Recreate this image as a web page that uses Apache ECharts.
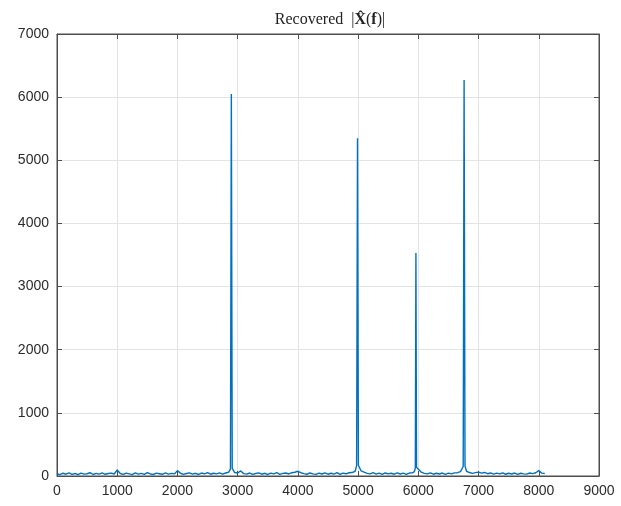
<!DOCTYPE html>
<html>
<head>
<meta charset="utf-8">
<script src="https://cdn.jsdelivr.net/npm/echarts@6/dist/echarts.min.js"></script>
<style>html,body{margin:0;padding:0;background:#fff}#c{width:621px;height:506px}</style>
</head>
<body>
<div id="c"></div>
<script>
// Frequency (Hz) and magnitude |X(f)|
const freqHz = [
  0,50,100,150,200,250,300,350,400,450,500,550,600,650,700,750,800,850,900,950,
  1000,1050,1100,1150,1200,1250,1300,1350,1400,1450,1500,1550,1600,1650,1700,1750,1800,1850,1900,1950,
  2000,2050,2100,2150,2200,2250,2300,2350,2400,2450,2500,2550,2600,2650,2700,2750,2800,2850,2880,2895,2910,2950,
  3000,3050,3100,3150,3200,3250,3300,3350,3400,3450,3500,3550,3600,3650,3700,3750,3800,3850,3900,3950,
  4000,4050,4100,4150,4200,4250,4300,4350,4400,4450,4500,4550,4600,4650,4700,4750,4800,4850,4900,4950,4975,4990,5005,
  5050,5100,5150,5200,5250,5300,5350,5400,5450,5500,5550,5600,5650,5700,5750,5800,5850,5900,5935,5950,5960,5970,
  6050,6100,6150,6200,6250,6300,6350,6400,6450,6500,6550,6600,6650,6700,6745,6760,6775,
  6800,6850,6900,6950,7000,7050,7100,7150,7200,7250,7300,7350,7400,7450,7500,7550,7600,7650,7700,7750,
  7800,7850,7900,7950,8000,8050,8100
];
const magnitude = [
  35,22,44,28,50,26,40,20,46,30,36,52,24,42,30,48,27,40,45,32,
  95,40,25,46,34,22,50,30,42,26,55,32,24,45,36,27,48,30,42,33,
  85,44,26,40,50,30,43,24,47,34,52,28,44,33,50,30,47,60,110,6050,120,55,
  48,80,38,30,47,26,40,50,28,43,24,46,33,52,27,42,48,32,52,60,
  75,52,38,28,48,34,26,45,32,50,28,43,30,52,26,45,35,52,55,75,160,5350,170,
  80,60,42,34,52,30,45,26,48,33,43,28,50,32,45,26,47,50,70,130,3530,140,
  60,42,34,50,28,43,32,47,26,45,34,50,52,70,150,6270,160,
  75,55,42,54,62,45,56,36,48,30,45,34,48,28,43,32,47,26,44,34,
  30,47,38,52,85,45,40
];
const xTicks = [0,1000,2000,3000,4000,5000,6000,7000,8000,9000];
const yTicks = [0,1000,2000,3000,4000,5000,6000,7000];

const pts = freqHz.map((f, i) => [f, magnitude[i]]);
const labelStyle = {fontFamily: 'Liberation Sans, Arial, sans-serif', fontSize: 14, color: '#2b2b2b', formatter: v => String(v)};
const serif = 'Liberation Serif, Times New Roman, serif';
const tick = {show: true, inside: true, length: 5, lineStyle: {color: '#4d4d4d'}};
const chart = echarts.init(document.getElementById('c'), null, {renderer: 'canvas'});
chart.setOption({
  animation: false,
  title: {
    text: 'Recovered  |{b|X̂}({b|f})|',
    left: 325, top: 7, textAlign: 'center',
    textStyle: {
      fontFamily: serif, fontSize: 16, fontWeight: 'normal', color: '#222',
      rich: {b: {fontFamily: serif, fontSize: 16, fontWeight: 'bold', color: '#222'}}
    }
  },
  grid: {left: 57, right: 22, top: 34, bottom: 30, show: true, borderColor: '#4d4d4d', borderWidth: 1},
  xAxis: [{
    type: 'value', min: 0, max: 9000, interval: 1000, position: 'bottom',
    axisLine: {show: true, onZero: false, lineStyle: {color: '#4d4d4d'}},
    axisTick: tick,
    axisLabel: Object.assign({margin: 8, inside: false}, labelStyle),
    splitLine: {show: true, lineStyle: {color: '#e3e3e3', width: 1}}
  }, {
    type: 'value', position: 'top', min: 0, max: 9000, interval: 1000,
    axisLine: {show: true, onZero: false, lineStyle: {color: '#4d4d4d'}},
    axisTick: tick,
    axisLabel: {show: false}, splitLine: {show: false}
  }],
  yAxis: [{
    type: 'value', min: 0, max: 7000, interval: 1000, position: 'left',
    axisLine: {show: true, onZero: false, lineStyle: {color: '#4d4d4d'}},
    axisTick: tick,
    axisLabel: Object.assign({margin: 8, inside: false}, labelStyle),
    splitLine: {show: true, lineStyle: {color: '#e3e3e3', width: 1}}
  }, {
    type: 'value', position: 'right', min: 0, max: 7000, interval: 1000,
    axisLine: {show: true, onZero: false, lineStyle: {color: '#4d4d4d'}},
    axisTick: tick,
    axisLabel: {show: false}, splitLine: {show: false}
  }],
  series: [{
    type: 'line', data: pts, showSymbol: false, symbol: 'none',
    xAxisIndex: 0, yAxisIndex: 0,
    lineStyle: {color: '#0072BD', width: 1.4},
    silent: true
  }]
});
</script>
</body>
</html>
